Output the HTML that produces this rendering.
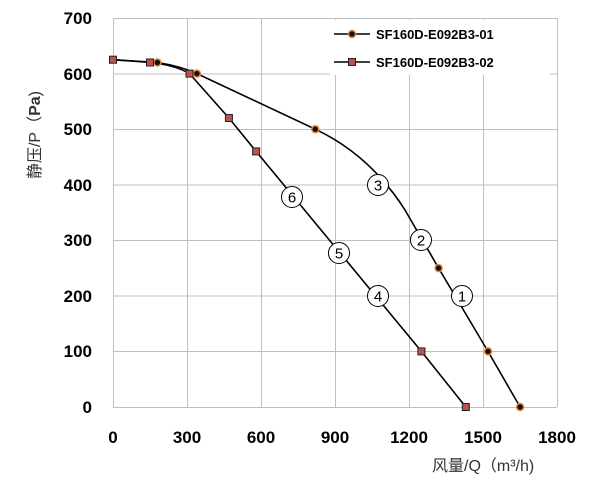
<!DOCTYPE html>
<html><head><meta charset="utf-8"><style>
body{margin:0;background:#fff;}
svg text{font-family:"Liberation Sans","Noto Sans CJK SC",sans-serif;}
</style></head><body>
<svg width="600" height="492" viewBox="0 0 600 492" xmlns="http://www.w3.org/2000/svg">
<g stroke="#bfbfbf" stroke-width="1">
<line x1="113" y1="18.5" x2="557" y2="18.5"/>
<line x1="113" y1="74" x2="557" y2="74"/>
<line x1="113" y1="129.5" x2="557" y2="129.5"/>
<line x1="113" y1="185" x2="557" y2="185"/>
<line x1="113" y1="240.5" x2="557" y2="240.5"/>
<line x1="113" y1="296" x2="557" y2="296"/>
<line x1="113" y1="351.5" x2="557" y2="351.5"/>
<line x1="187.5" y1="18" x2="187.5" y2="407"/>
<line x1="261.5" y1="18" x2="261.5" y2="407"/>
<line x1="335.5" y1="18" x2="335.5" y2="407"/>
<line x1="409.5" y1="18" x2="409.5" y2="407"/>
<line x1="483.5" y1="18" x2="483.5" y2="407"/>
<line x1="557.5" y1="18" x2="557.5" y2="407"/>
<line x1="113.5" y1="18" x2="113.5" y2="407"/>
<line x1="113" y1="407.5" x2="557" y2="407.5"/>
</g>
<g font-size="17" font-weight="bold" fill="#000" text-anchor="end">
<text x="92" y="24">700</text><text x="92" y="80">600</text><text x="92" y="135">500</text>
<text x="92" y="191">400</text><text x="92" y="246">300</text><text x="92" y="302">200</text>
<text x="92" y="357">100</text><text x="92" y="413">0</text>
</g>
<g font-size="17" font-weight="bold" fill="#000" text-anchor="middle">
<text x="113" y="443">0</text><text x="187" y="443">300</text><text x="261" y="443">600</text>
<text x="335" y="443">900</text><text x="409" y="443">1200</text><text x="483" y="443">1500</text>
<text x="557" y="443">1800</text>
</g>
<text transform="translate(40,135) rotate(-90)" font-size="16" fill="#333" text-anchor="middle">静压/P（<tspan font-weight="bold">Pa</tspan>)</text>
<text x="432" y="471" font-size="16" fill="#333">风量/Q（m³/h)</text>
<g fill="none" stroke="#000" stroke-width="1.6">
<path d="M113,59.7 L157.4,62.5 Q180,66 196.9,73.6 L315.3,129.2 Q370,155 405,210 L438.6,268.1 L488,351.4 L520.1,407"/>
<path d="M113,59.7 L150,62.5 Q175,65 189.5,73.6 L228.9,118 L256.1,151.4 L421.4,351.4 L465.8,407"/>
</g>
<g fill="#fff" stroke="#000" stroke-width="1">
<circle cx="292" cy="197" r="10.5"/><circle cx="378" cy="185" r="10.5"/><circle cx="421" cy="240" r="10.5"/>
<circle cx="339" cy="253" r="10.5"/><circle cx="462" cy="296" r="10.5"/><circle cx="378" cy="296" r="10.5"/>
</g>
<g font-size="15" fill="#000" text-anchor="middle">
<text x="292" y="202.5">6</text><text x="378" y="190.5">3</text><text x="421" y="245.5">2</text>
<text x="339" y="258.5">5</text><text x="462" y="301.5">1</text><text x="378" y="301.5">4</text>
</g>
<g fill="#111" stroke="#e8883a" stroke-width="1.5">
<circle cx="157.4" cy="62.5" r="3.5"/><circle cx="196.9" cy="73.6" r="3.5"/><circle cx="315.3" cy="129.2" r="3.5"/>
<circle cx="438.6" cy="268.1" r="3.5"/><circle cx="488" cy="351.4" r="3.5"/><circle cx="520.1" cy="407" r="3.5"/>
</g>
<g fill="#c0504d" stroke="#222" stroke-width="1">
<rect x="109.5" y="56.2" width="7" height="7"/><rect x="146.5" y="59" width="7" height="7"/>
<rect x="186" y="70.1" width="7" height="7"/><rect x="225.4" y="114.5" width="7" height="7"/>
<rect x="252.6" y="147.9" width="7" height="7"/><rect x="417.9" y="347.9" width="7" height="7"/>
<rect x="462.3" y="403.5" width="7" height="7"/>
</g>
<rect x="330" y="20" width="220" height="55" fill="#fff"/>
<line x1="334" y1="34" x2="370" y2="34" stroke="#000" stroke-width="1.6"/>
<circle cx="352" cy="34" r="3.5" fill="#111" stroke="#e8883a" stroke-width="1.5"/>
<line x1="334" y1="62" x2="370" y2="62" stroke="#000" stroke-width="1.6"/>
<rect x="348.5" y="58.5" width="7" height="7" fill="#c0504d" stroke="#222"/>
<g font-size="13" font-weight="bold" fill="#000">
<text x="376" y="39">SF160D-E092B3-01</text>
<text x="376" y="67">SF160D-E092B3-02</text>
</g>
</svg>
</body></html>
